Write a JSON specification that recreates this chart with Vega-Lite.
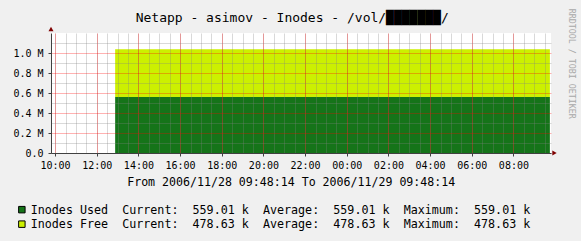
{
  "$schema": "https://vega.github.io/schema/vega-lite/v6.json",
  "width": 500,
  "height": 120,
  "autosize": {"type": "none"},
  "padding": {"left": 51, "top": 33, "right": 30, "bottom": 88},
  "background": "#f0f0f0",
  "config": {"view": {"fill": "white", "stroke": null}, "font": "DejaVu Sans Mono"},
  "data": {"values": [
    {"time": "2006-11-28T12:53:00", "series": "Inodes Used", "value": 559010},
    {"time": "2006-11-29T09:45:00", "series": "Inodes Used", "value": 559010},
    {"time": "2006-11-28T12:53:00", "series": "Inodes Free", "value": 478630},
    {"time": "2006-11-29T09:45:00", "series": "Inodes Free", "value": 478630}
  ]},
  "layer": [
    {
      "mark": {"type": "area", "interpolate": "linear"},
      "encoding": {
        "x": {
          "field": "time", "type": "temporal",
          "scale": {"domain": [{"year": 2006, "month": 11, "date": 28, "hours": 9, "minutes": 48, "seconds": 14}, {"year": 2006, "month": 11, "date": 29, "hours": 9, "minutes": 48, "seconds": 14}]},
          "axis": {
            "orient": "top",
            "values": [
              {"year": 2006, "month": 11, "date": 28, "hours": 10, "minutes": 0},
              {"year": 2006, "month": 11, "date": 28, "hours": 10, "minutes": 30},
              {"year": 2006, "month": 11, "date": 28, "hours": 11, "minutes": 0},
              {"year": 2006, "month": 11, "date": 28, "hours": 11, "minutes": 30},
              {"year": 2006, "month": 11, "date": 28, "hours": 12, "minutes": 0},
              {"year": 2006, "month": 11, "date": 28, "hours": 12, "minutes": 30},
              {"year": 2006, "month": 11, "date": 28, "hours": 13, "minutes": 0},
              {"year": 2006, "month": 11, "date": 28, "hours": 13, "minutes": 30},
              {"year": 2006, "month": 11, "date": 28, "hours": 14, "minutes": 0},
              {"year": 2006, "month": 11, "date": 28, "hours": 14, "minutes": 30},
              {"year": 2006, "month": 11, "date": 28, "hours": 15, "minutes": 0},
              {"year": 2006, "month": 11, "date": 28, "hours": 15, "minutes": 30},
              {"year": 2006, "month": 11, "date": 28, "hours": 16, "minutes": 0},
              {"year": 2006, "month": 11, "date": 28, "hours": 16, "minutes": 30},
              {"year": 2006, "month": 11, "date": 28, "hours": 17, "minutes": 0},
              {"year": 2006, "month": 11, "date": 28, "hours": 17, "minutes": 30},
              {"year": 2006, "month": 11, "date": 28, "hours": 18, "minutes": 0},
              {"year": 2006, "month": 11, "date": 28, "hours": 18, "minutes": 30},
              {"year": 2006, "month": 11, "date": 28, "hours": 19, "minutes": 0},
              {"year": 2006, "month": 11, "date": 28, "hours": 19, "minutes": 30},
              {"year": 2006, "month": 11, "date": 28, "hours": 20, "minutes": 0},
              {"year": 2006, "month": 11, "date": 28, "hours": 20, "minutes": 30},
              {"year": 2006, "month": 11, "date": 28, "hours": 21, "minutes": 0},
              {"year": 2006, "month": 11, "date": 28, "hours": 21, "minutes": 30},
              {"year": 2006, "month": 11, "date": 28, "hours": 22, "minutes": 0},
              {"year": 2006, "month": 11, "date": 28, "hours": 22, "minutes": 30},
              {"year": 2006, "month": 11, "date": 28, "hours": 23, "minutes": 0},
              {"year": 2006, "month": 11, "date": 28, "hours": 23, "minutes": 30},
              {"year": 2006, "month": 11, "date": 29, "hours": 0, "minutes": 0},
              {"year": 2006, "month": 11, "date": 29, "hours": 0, "minutes": 30},
              {"year": 2006, "month": 11, "date": 29, "hours": 1, "minutes": 0},
              {"year": 2006, "month": 11, "date": 29, "hours": 1, "minutes": 30},
              {"year": 2006, "month": 11, "date": 29, "hours": 2, "minutes": 0},
              {"year": 2006, "month": 11, "date": 29, "hours": 2, "minutes": 30},
              {"year": 2006, "month": 11, "date": 29, "hours": 3, "minutes": 0},
              {"year": 2006, "month": 11, "date": 29, "hours": 3, "minutes": 30},
              {"year": 2006, "month": 11, "date": 29, "hours": 4, "minutes": 0},
              {"year": 2006, "month": 11, "date": 29, "hours": 4, "minutes": 30},
              {"year": 2006, "month": 11, "date": 29, "hours": 5, "minutes": 0},
              {"year": 2006, "month": 11, "date": 29, "hours": 5, "minutes": 30},
              {"year": 2006, "month": 11, "date": 29, "hours": 6, "minutes": 0},
              {"year": 2006, "month": 11, "date": 29, "hours": 6, "minutes": 30},
              {"year": 2006, "month": 11, "date": 29, "hours": 7, "minutes": 0},
              {"year": 2006, "month": 11, "date": 29, "hours": 7, "minutes": 30},
              {"year": 2006, "month": 11, "date": 29, "hours": 8, "minutes": 0},
              {"year": 2006, "month": 11, "date": 29, "hours": 8, "minutes": 30},
              {"year": 2006, "month": 11, "date": 29, "hours": 9, "minutes": 0},
              {"year": 2006, "month": 11, "date": 29, "hours": 9, "minutes": 30}
            ],
            "labels": false, "ticks": false, "domain": false,
            "grid": true, "gridColor": "#808080", "gridOpacity": 0.3, "zindex": 1,
            "title": "Netapp - asimov - Inodes - /vol/\u2588\u2588\u2588\u2588\u2588\u2588\u2588/",
            "titleFont": "DejaVu Sans Mono", "titleFontSize": 13, "titleFontWeight": "normal", "titleColor": "#000000",
            "titleX": 240.7, "titleY": -11.3, "titleAlign": "center", "titleBaseline": "alphabetic", "titleAngle": 0
          }
        },
        "y": {
          "field": "value", "type": "quantitative", "stack": "zero",
          "scale": {"domain": [0, 1200000], "nice": false},
          "axis": {
            "orient": "right", "values": [100000, 300000, 500000, 700000, 900000, 1100000],
            "labels": false, "ticks": false, "domain": false,
            "grid": true, "gridColor": "#808080", "gridOpacity": 0.3, "zindex": 1,
            "title": "RRDTOOL / TOBI OETIKER",
            "titleFont": "DejaVu Sans Mono", "titleFontSize": 8.3, "titleFontWeight": "normal", "titleColor": "#a8a8a8",
            "titleAngle": 90, "titleX": 19.8, "titleY": -24.7, "titleAlign": "left", "titleBaseline": "middle"
          }
        },
        "color": {
          "field": "series", "type": "nominal",
          "sort": ["Inodes Used", "Inodes Free"],
          "scale": {"domain": ["Inodes Used", "Inodes Free"], "range": ["#157419", "#ccf000"]},
          "legend": {
            "orient": "none", "legendX": -35, "legendY": 170.8, "direction": "vertical",
            "title": null, "padding": 0, "rowPadding": 1.5,
            "symbolType": "square", "symbolSize": 42, "symbolOpacity": 1,
            "symbolStrokeColor": "#000000", "symbolStrokeWidth": 1,
            "labelFont": "DejaVu Sans Mono", "labelFontSize": 11.7, "labelColor": "#000000",
            "labelOffset": 3, "labelLimit": 700, "labelBaseline": "middle",
            "labelExpr": "datum.label == 'Inodes Used' ? 'Inodes\u00a0Used\u00a0\u00a0Current:\u00a0\u00a0559.01\u00a0k\u00a0\u00a0Average:\u00a0\u00a0559.01\u00a0k\u00a0\u00a0Maximum:\u00a0\u00a0559.01\u00a0k' : 'Inodes\u00a0Free\u00a0\u00a0Current:\u00a0\u00a0478.63\u00a0k\u00a0\u00a0Average:\u00a0\u00a0478.63\u00a0k\u00a0\u00a0Maximum:\u00a0\u00a0478.63\u00a0k'"
          }
        }
      }
    },
    {
      "mark": {"type": "point", "opacity": 0},
      "encoding": {
        "x": {
          "field": "time", "type": "temporal",
          "scale": {"domain": [{"year": 2006, "month": 11, "date": 28, "hours": 9, "minutes": 48, "seconds": 14}, {"year": 2006, "month": 11, "date": 29, "hours": 9, "minutes": 48, "seconds": 14}]},
          "axis": {
            "orient": "bottom", "format": "%H:%M",
            "values": [
              {"year": 2006, "month": 11, "date": 28, "hours": 10},
              {"year": 2006, "month": 11, "date": 28, "hours": 12},
              {"year": 2006, "month": 11, "date": 28, "hours": 14},
              {"year": 2006, "month": 11, "date": 28, "hours": 16},
              {"year": 2006, "month": 11, "date": 28, "hours": 18},
              {"year": 2006, "month": 11, "date": 28, "hours": 20},
              {"year": 2006, "month": 11, "date": 28, "hours": 22},
              {"year": 2006, "month": 11, "date": 29, "hours": 0},
              {"year": 2006, "month": 11, "date": 29, "hours": 2},
              {"year": 2006, "month": 11, "date": 29, "hours": 4},
              {"year": 2006, "month": 11, "date": 29, "hours": 6},
              {"year": 2006, "month": 11, "date": 29, "hours": 8}
            ],
            "grid": true, "gridColor": "#ff0000", "gridOpacity": 0.3, "zindex": 1,
            "labelFont": "DejaVu Sans Mono", "labelFontSize": 10, "labelColor": "#000000",
            "labelBaseline": "alphabetic", "labelPadding": 12, "labelFlush": false, "labelOverlap": false, "labelAngle": 0,
            "ticks": true, "tickSize": 3, "tickColor": "#404040", "domainColor": "#404040",
            "title": "From 2006/11/28 09:48:14 To 2006/11/29 09:48:14",
            "titleFont": "DejaVu Sans Mono", "titleFontSize": 11.6, "titleFontWeight": "normal", "titleColor": "#000000",
            "titleX": 239.7, "titleY": 32.5, "titleAlign": "center", "titleBaseline": "alphabetic"
          }
        },
        "y": {
          "field": "value", "type": "quantitative",
          "scale": {"domain": [0, 1200000], "nice": false},
          "axis": {
            "orient": "left", "values": [0, 200000, 400000, 600000, 800000, 1000000],
            "labelExpr": "datum.value == 0 ? '0.0' : format(datum.value / 1000000, '.1f') + ' M'",
            "grid": true, "gridColor": "#ff0000", "gridOpacity": 0.3, "zindex": 1,
            "labelFont": "DejaVu Sans Mono", "labelFontSize": 10, "labelColor": "#000000",
            "labelPadding": 5, "tickSize": 3, "tickColor": "#404040", "domainColor": "#404040",
            "title": null
          }
        }
      }
    },
    {
      "data": {"values": [{"arrow": "y"}]},
      "mark": {"type": "point", "shape": "triangle-up", "size": 25, "filled": true, "color": "#7f0000", "opacity": 1, "yOffset": -4},
      "encoding": {
        "x": {"datum": {"year": 2006, "month": 11, "date": 28, "hours": 9, "minutes": 48, "seconds": 14}, "type": "temporal", "axis": null},
        "y": {"datum": 1200000, "type": "quantitative", "axis": null}
      }
    },
    {
      "data": {"values": [{"arrow": "x"}]},
      "mark": {"type": "point", "shape": "triangle-right", "size": 25, "filled": true, "color": "#7f0000", "opacity": 1, "xOffset": 3.5},
      "encoding": {
        "x": {"datum": {"year": 2006, "month": 11, "date": 29, "hours": 9, "minutes": 48, "seconds": 14}, "type": "temporal", "axis": null},
        "y": {"datum": 0, "type": "quantitative", "axis": null}
      }
    }
  ],
  "resolve": {"axis": {"x": "independent", "y": "independent"}}
}
